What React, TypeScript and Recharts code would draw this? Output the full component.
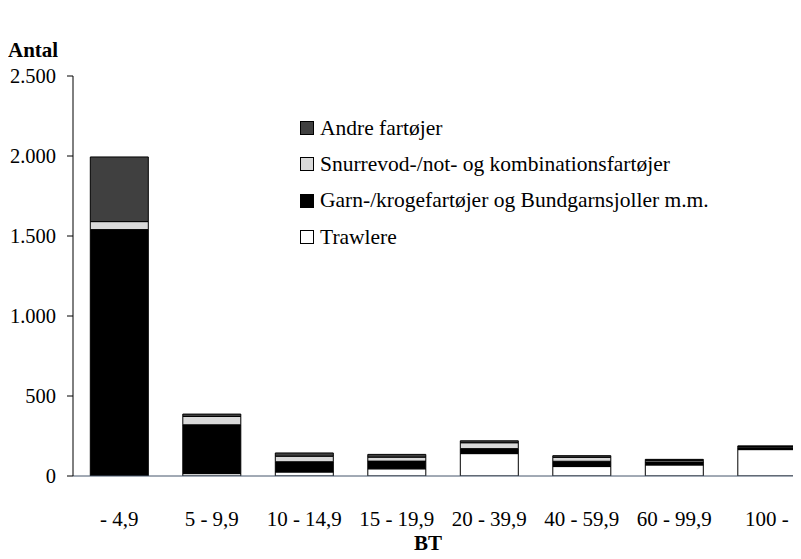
import React from "react";
import { BarChart, Bar, XAxis, YAxis } from "recharts";

const categories = ["- 4,9", "5 - 9,9", "10 - 14,9", "15 - 19,9", "20 - 39,9", "40 - 59,9", "60 - 99,9", "100 -"];
const trawlere = [3, 15, 25, 45, 140, 59, 69, 165];
const garn = [1537, 305, 64, 48, 31, 33, 19, 12];
const snurrevod = [50, 52, 35, 25, 37, 25, 10, 8];
const andre = [404, 15, 20, 17, 12, 10, 6, 3];
const yTicks = [0, 500, 1000, 1500, 2000, 2500];

const series = [
  { key: "trawlere", name: "Trawlere", fill: "#ffffff" },
  { key: "garn", name: "Garn-/krogefartøjer og Bundgarnsjoller m.m.", fill: "#000000" },
  { key: "snurrevod", name: "Snurrevod-/not- og kombinationsfartøjer", fill: "#d9d9d9" },
  { key: "andre", name: "Andre fartøjer", fill: "#404040" },
];

const data = categories.map((c, i) => ({
  cat: c,
  trawlere: trawlere[i],
  garn: garn[i],
  snurrevod: snurrevod[i],
  andre: andre[i],
}));

const FONT = "'Liberation Serif', 'Times New Roman', serif";
const fmt = (v: number) => v.toString().replace(/\B(?=(\d{3})+(?!\d))/g, ".");

export default function App() {
  return (
    <div style={{ position: "relative", width: 793, height: 551, overflow: "hidden", fontFamily: FONT }}>
      <div style={{ position: "absolute", left: 0, top: 30, fontSize: 21, fontWeight: "bold", color: "#000" }}>Antal</div>
      <BarChart
        width={805}
        height={551}
        data={data}
        margin={{ top: 68, right: 0, bottom: 23, left: 0 }}
        barCategoryGap="18.7%"
      >
        <XAxis
          dataKey="cat"
          tickLine={false}
          tickSize={0}
          tickMargin={35}
          height={60}
          axisLine={{ stroke: "#44546a" }}
          tick={{ fill: "#000", fontSize: 21, fontFamily: FONT }}
          interval={0}
        />
        <YAxis
          width={65}
          domain={[0, 2500]}
          ticks={yTicks}
          tickFormatter={fmt}
          tickSize={6}
          tickMargin={11}
          axisLine={{ stroke: "#000" }}
          tickLine={{ stroke: "#000" }}
          tick={{ fill: "#000", fontSize: 20.5, fontFamily: FONT }}
          allowDataOverflow
        />
        {series.map((s) => (
          <Bar
            key={s.key}
            dataKey={s.key}
            name={s.name}
            stackId="a"
            fill={s.fill}
            stroke="#000"
            strokeWidth={1}
            isAnimationActive={false}
          />
        ))}
      </BarChart>
      <div style={{ position: "absolute", left: 406, top: 523, fontSize: 21, fontWeight: "bold", color: "#000", lineHeight: "24px" }}>BT</div>
      <div style={{ position: "absolute", left: 292, top: 102 }}>
        {[...series].reverse().map((s) => (
          <div key={s.key} style={{ height: 36.3, display: "flex", alignItems: "center", fontSize: 21.5, color: "#000" }}>
            <span
              style={{
                display: "inline-block",
                width: 12,
                height: 12,
                background: s.fill,
                border: "1px solid #000",
                marginRight: 6,
              }}
            />
            <span>{s.name}</span>
          </div>
        ))}
      </div>
    </div>
  );
}
